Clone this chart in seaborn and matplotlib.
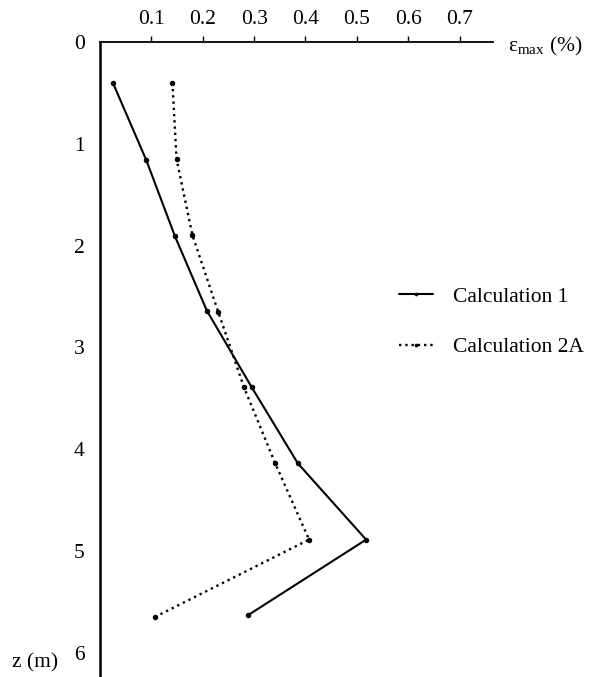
import seaborn as sns
import matplotlib.pyplot as plt
import pandas as pd

# depth (m) and max strain (%)
z_calc1 = [0.40, 1.16, 1.91, 2.64, 3.39, 4.14, 4.89, 5.63]
eps_calc1 = [0.025, 0.090, 0.146, 0.208, 0.295, 0.385, 0.518, 0.289]

z_calc2a = [0.40, 1.15, 1.90, 2.65, 3.39, 4.14, 4.89, 5.65]
eps_calc2a = [0.141, 0.149, 0.180, 0.230, 0.280, 0.341, 0.407, 0.107]

labels = ['Calculation 1', 'Calculation 2A']
x_ticks = [0.1, 0.2, 0.3, 0.4, 0.5, 0.6, 0.7]
y_ticks = [0, 1, 2, 3, 4, 5, 6]

df1 = pd.DataFrame({'z': z_calc1, 'eps': eps_calc1})
df2 = pd.DataFrame({'z': z_calc2a, 'eps': eps_calc2a})

sns.set_style('white')
plt.rcParams['font.family'] = ['Liberation Serif', 'DejaVu Serif']
plt.rcParams['mathtext.fontset'] = 'custom'
plt.rcParams['mathtext.rm'] = 'Liberation Serif'
plt.rcParams['text.color'] = 'black'
plt.rcParams['xtick.color'] = 'black'
plt.rcParams['ytick.color'] = 'black'

fig = plt.figure(figsize=(5.93, 6.77), dpi=100)
ax = fig.add_axes([100/593, 0, 393/593, 635/677])

sns.lineplot(data=df1, x='eps', y='z', sort=False, ax=ax, color='black',
             lw=1.5, marker='o', ms=3.2, mec='black', label=labels[0])
sns.lineplot(data=df2, x='eps', y='z', sort=False, ax=ax, color='black',
             lw=1.7, ls=':', marker='o', ms=3.2, mec='black', label=labels[1])

ax.set_xlim(0, 0.765)
ax.set_ylim(6.24, 0)
ax.set_xticks(x_ticks)
ax.set_xticklabels([str(v) for v in x_ticks])
ax.set_yticks(y_ticks)
ax.set_yticklabels([str(v) for v in y_ticks])
ax.xaxis.tick_top()
ax.tick_params(axis='x', direction='out', length=4, width=1, pad=5, labelsize=15.5)
ax.tick_params(axis='y', direction='out', length=3, width=1, pad=8, labelsize=15.5)
ax.set_xlabel('')
ax.set_ylabel('')

for s in ['right', 'bottom']:
    ax.spines[s].set_visible(False)
ax.spines['top'].set_linewidth(1.3)
ax.spines['left'].set_linewidth(1.8)
ax.spines['top'].set_color('black')
ax.spines['left'].set_color('black')

fig.text(508/593, 1 - 46/677, r'ε$_{\mathrm{max}}$ (%)', fontsize=15.5,
         ha='left', va='center')
fig.text(12/593, 1 - 663/677, 'z (m)', fontsize=15.5, ha='left', va='center')

ax.legend(loc='center left', bbox_to_anchor=(388/593, 1 - 322/677),
          bbox_transform=fig.transFigure, frameon=False, fontsize=15.5,
          handlelength=1.6, handletextpad=0.9, labelspacing=1.4,
          borderpad=0, markerscale=0.6)

fig.savefig('out.png', dpi=100)
